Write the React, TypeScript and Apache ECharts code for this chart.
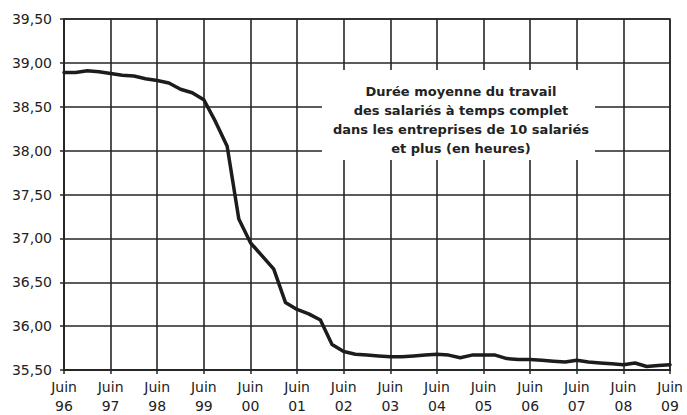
import React, { useEffect, useRef } from "react";
import * as echarts from "echarts";

const months = ["Juin", "Sept", "Déc", "Mars"];
const quarters: string[] = [];
for (let i = 0; i <= 52; i++) {
  const yearOffset = Math.floor((i + 2) / 4);
  const yr = (96 + yearOffset) % 100;
  quarters.push(months[i % 4] + " " + String(yr).padStart(2, "0"));
}

const hours = [
  38.89, 38.89, 38.91, 38.9, 38.88, 38.86, 38.85, 38.82, 38.8, 38.77,
  38.7, 38.66, 38.58, 38.33, 38.05, 37.22, 36.95, 36.8, 36.65, 36.27,
  36.19, 36.14, 36.07, 35.79, 35.71, 35.68, 35.67, 35.66, 35.65, 35.65,
  35.66, 35.67, 35.68, 35.67, 35.64, 35.67, 35.67, 35.67, 35.63, 35.62,
  35.62, 35.61, 35.6, 35.59, 35.61, 35.59, 35.58, 35.57, 35.56, 35.58,
  35.54, 35.55, 35.56,
];

const yTicks = { min: 35.5, max: 39.5, interval: 0.5 };

const titleLines = [
  "Durée moyenne du travail",
  "des salariés à temps complet",
  "dans les entreprises de 10 salariés",
  "et plus (en heures)",
];

const FONT = "DejaVu Sans";

export default function App() {
  const ref = useRef<HTMLDivElement>(null);
  useEffect(() => {
    if (!ref.current) return;
    const chart = echarts.init(ref.current, undefined, { renderer: "svg" });
    chart.setOption({
      animation: false,
      backgroundColor: "#ffffff",
      grid: {
        left: 64,
        right: 17,
        top: 19,
        bottom: 44,
        show: true,
        borderColor: "#262626",
        borderWidth: 1.5,
      },
      xAxis: {
        type: "category",
        data: quarters,
        boundaryGap: false,
        axisLine: { lineStyle: { color: "#262626", width: 2 } },
        axisTick: { show: true, interval: 3, length: 4, lineStyle: { color: "#262626", width: 1.5 } },
        axisLabel: {
          interval: 3,
          margin: 7,
          color: "#222",
          fontFamily: FONT,
          fontSize: 14,
          lineHeight: 19,
          formatter: (v: string) => v.replace(" ", "\n"),
        },
        splitLine: { show: true, interval: 3, lineStyle: { color: "#262626", width: 1.6 } },
      },
      yAxis: {
        type: "value",
        min: yTicks.min,
        max: yTicks.max,
        interval: yTicks.interval,
        axisLine: { show: true, lineStyle: { color: "#262626", width: 1.6 } },
        axisTick: { show: true, length: 4, lineStyle: { color: "#262626", width: 1.5 } },
        axisLabel: {
          margin: 12,
          color: "#222",
          fontFamily: FONT,
          fontSize: 14,
          formatter: (v: number) => v.toFixed(2).replace(".", ","),
        },
        splitLine: { show: true, lineStyle: { color: "#262626", width: 1.6 } },
      },
      series: [
        {
          type: "line",
          data: hours,
          showSymbol: false,
          symbol: "none",
          lineStyle: { color: "#1c1c1c", width: 3.5, join: "round", cap: "round" },
          z: 3,
        },
      ],
      graphic: [
        {
          type: "rect",
          shape: { x: 322, y: 70, width: 273, height: 90 },
          style: { fill: "#ffffff" },
          z: 100,
        },
        {
          type: "text",
          x: 461,
          y: 120,
          z: 101,
          style: {
            text: titleLines.join("\n"),
            fill: "#222",
            font: `bold 13px "${FONT}"`,
            fontFamily: FONT,
            fontWeight: "bold",
            fontSize: 13,
            lineHeight: 19,
            align: "center",
            verticalAlign: "middle",
          },
        },
      ],
    });
    return () => chart.dispose();
  }, []);
  return (
    <div
      ref={ref}
      style={{ position: "fixed", left: 0, top: 0, width: 687, height: 415 }}
    />
  );
}
